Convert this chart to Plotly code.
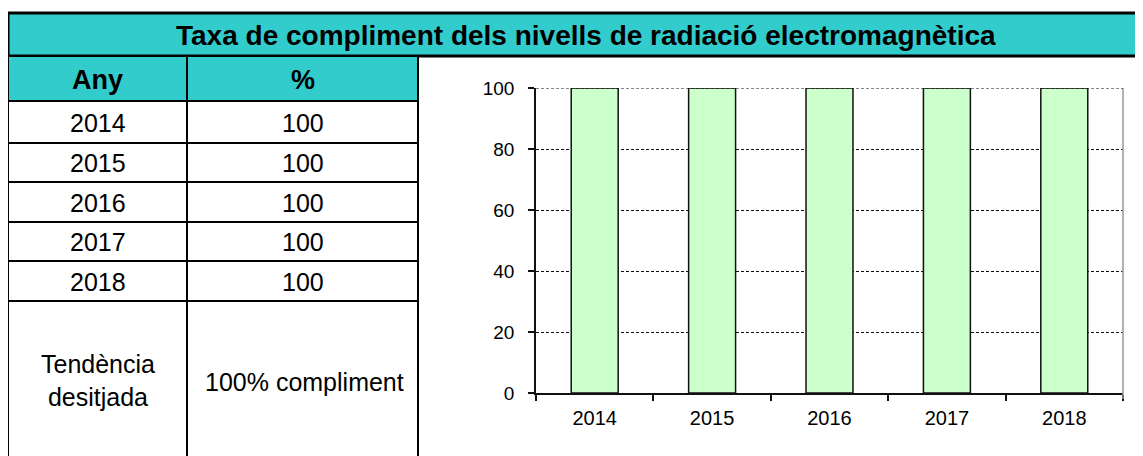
import plotly.graph_objects as go

# ---- data ----
years = ["2014", "2015", "2016", "2017", "2018"]
values = [100, 100, 100, 100, 100]
title_text = "Taxa de compliment dels nivells de radiació electromagnètica"
col_headers = ["Any", "%"]
trend_label = "Tendència<br>desitjada"
trend_value = "100% compliment"
y_ticks = [0, 20, 40, 60, 80, 100]

W, H = 1143, 456
OFF = 8  # page body margin offset
FONT = "Liberation Sans, Arial, sans-serif"
TURQ = "#33CCCC"


def px(x):
    return (x - OFF) / W


def py(y):
    return 1 - (y - OFF) / H


fig = go.Figure()
fig.add_trace(go.Bar(
    x=years, y=values,
    marker=dict(color="#CCFFCC", line=dict(color="#111111", width=1.5)),
    hoverinfo="x+y",
))

shapes = []
annotations = []

# title band
shapes.append(dict(type="rect", xref="paper", yref="paper",
                   x0=px(8), x1=px(1160), y0=py(56), y1=py(13),
                   fillcolor=TURQ, line=dict(color="black", width=3), layer="above"))
annotations.append(dict(xref="paper", yref="paper", x=px(586), y=py(35),
                        text="<b>" + title_text + "</b>", showarrow=False,
                        font=dict(family=FONT, size=28, color="black"),
                        xanchor="center", yanchor="middle"))

# header row
shapes.append(dict(type="rect", xref="paper", yref="paper",
                   x0=px(8), x1=px(418), y0=py(101), y1=py(56),
                   fillcolor=TURQ, line=dict(color="black", width=2), layer="above"))
col_x = [97.5, 302.5]
for cx, h in zip(col_x, col_headers):
    annotations.append(dict(xref="paper", yref="paper", x=px(cx), y=py(80),
                            text="<b>" + h + "</b>", showarrow=False,
                            font=dict(family=FONT, size=27, color="black"),
                            xanchor="center", yanchor="middle"))

# table body lines
row_lines = [101, 143, 182, 222, 261, 301]
for yl in row_lines:
    shapes.append(dict(type="line", xref="paper", yref="paper",
                       x0=px(8), x1=px(418), y0=py(yl), y1=py(yl),
                       line=dict(color="black", width=2), layer="above"))
for xl in [8, 187, 418]:
    shapes.append(dict(type="line", xref="paper", yref="paper",
                       x0=px(xl), x1=px(xl), y0=py(56), y1=py(480),
                       line=dict(color="black", width=2), layer="above"))

for i, (yr, v) in enumerate(zip(years, values)):
    cy = (row_lines[i] + row_lines[i + 1]) / 2 + 1
    annotations.append(dict(xref="paper", yref="paper", x=px(col_x[0]), y=py(cy),
                            text=yr, showarrow=False,
                            font=dict(family=FONT, size=25, color="black"),
                            xanchor="center", yanchor="middle"))
    annotations.append(dict(xref="paper", yref="paper", x=px(col_x[1]), y=py(cy),
                            text=str(v), showarrow=False,
                            font=dict(family=FONT, size=25, color="black"),
                            xanchor="center", yanchor="middle"))

annotations.append(dict(xref="paper", yref="paper", x=px(97.5), y=py(380),
                        text=trend_label, showarrow=False,
                        font=dict(family=FONT, size=25, color="black"),
                        xanchor="center", yanchor="middle"))
annotations.append(dict(xref="paper", yref="paper", x=px(304), y=py(382),
                        text=trend_value, showarrow=False,
                        font=dict(family=FONT, size=25, color="black"),
                        xanchor="center", yanchor="middle"))

# right border of plot area (gray)
shapes.append(dict(type="line", xref="paper", yref="paper",
                   x0=px(1123), x1=px(1123), y0=py(399), y1=py(88),
                   line=dict(color="#999999", width=1.5)))
# top gridline at the maximum tick
shapes.append(dict(type="line", xref="x domain", yref="y",
                   x0=0, x1=1, y0=y_ticks[-1], y1=y_ticks[-1],
                   line=dict(color="#111111", width=1, dash="3px,2px")))

fig.update_layout(
    width=W, height=H,
    margin=dict(l=0, r=0, t=0, b=0, autoexpand=False),
    paper_bgcolor="white", plot_bgcolor="white",
    showlegend=False,
    bargap=0.6,
    shapes=shapes,
    annotations=annotations,
    xaxis=dict(
        domain=[px(536), px(1123)],
        automargin=False,
        showline=True, linecolor="#111111", linewidth=1.5,
        ticks="outside", tickson="boundaries", ticklen=6, tickcolor="#111111", tickwidth=1.5,
        tickfont=dict(family=FONT, size=20, color="black"),
        ticklabelstandoff=6,
        showgrid=False, fixedrange=True,
    ),
    yaxis=dict(
        domain=[py(393), py(88)],
        automargin=False,
        range=[0, 100],
        tickvals=y_ticks,
        showline=True, linecolor="#111111", linewidth=1.5,
        ticks="outside", ticklen=6, tickcolor="#111111", tickwidth=1.5,
        tickfont=dict(family=FONT, size=19, color="black"),
        ticklabelstandoff=10,
        showgrid=True, gridcolor="#111111", gridwidth=1, griddash="3px,2px",
        zeroline=False, fixedrange=True,
    ),
)

fig.write_html("out.html")
